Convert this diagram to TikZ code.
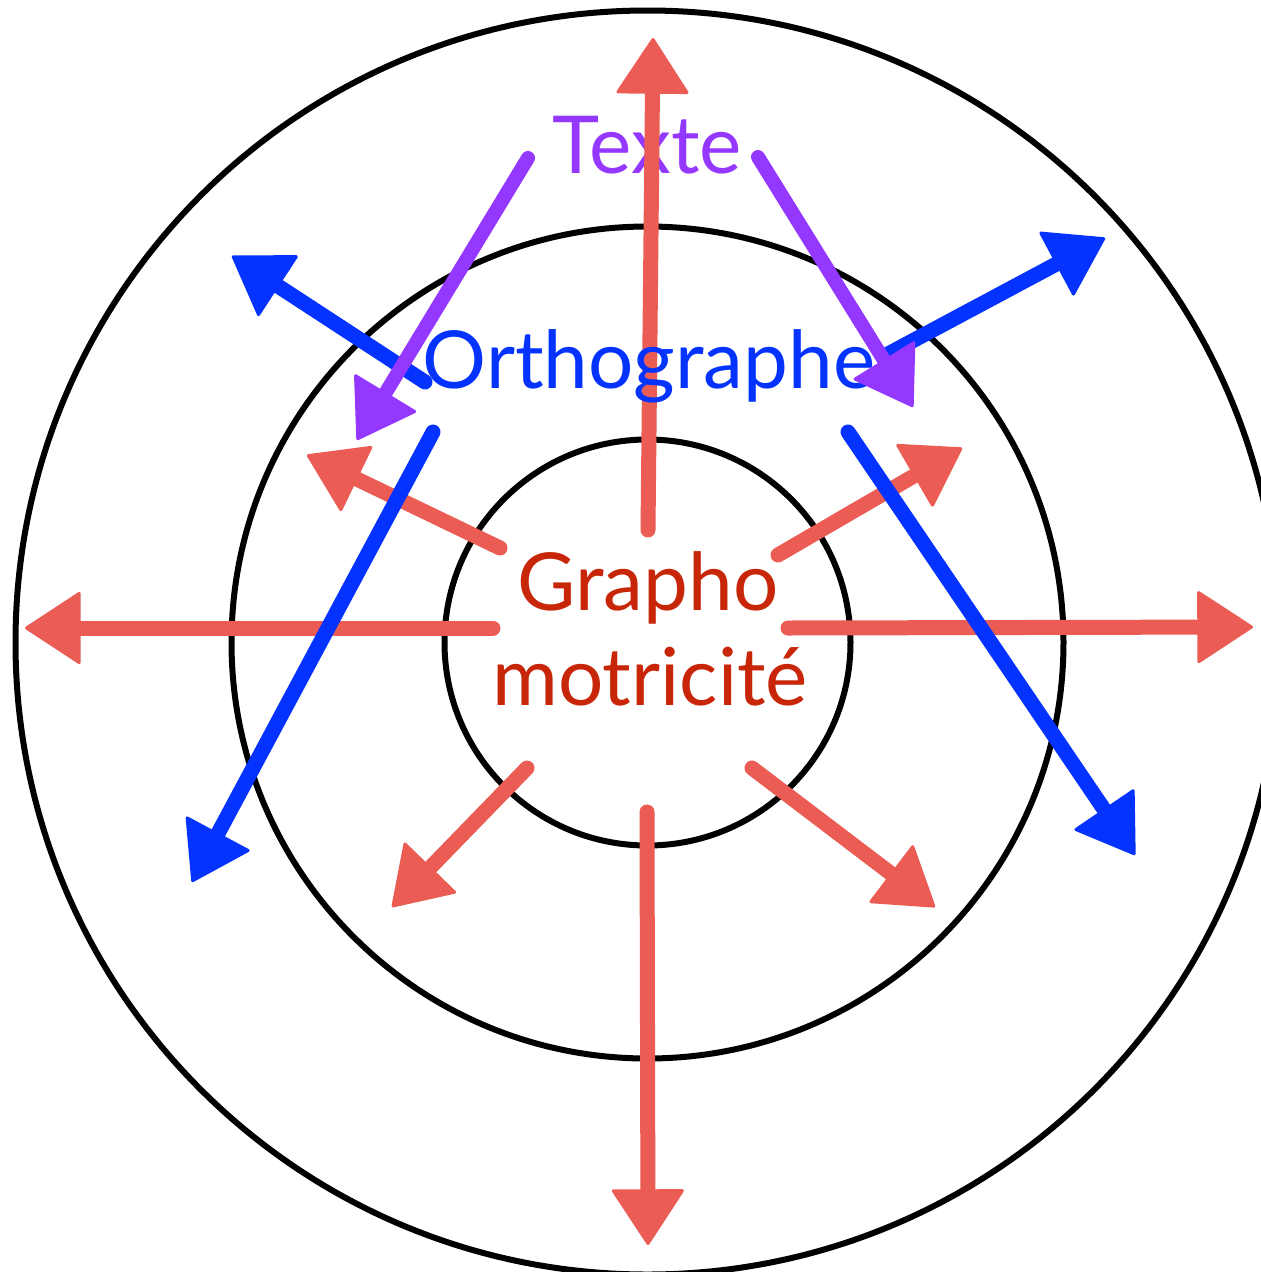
\documentclass[tikz,border=0pt]{standalone}
\usepackage{fontspec}
\setmainfont{Lato}
\usetikzlibrary{arrows.meta}
\definecolor{arrred}{RGB}{234,92,84}
\definecolor{txtred}{RGB}{200,38,8}
\definecolor{myblue}{RGB}{4,51,255}
\definecolor{mypurple}{RGB}{148,55,255}
\begin{document}
\begin{tikzpicture}[x=1pt,y=-1pt,
  ring/.style={draw=black,line width=6pt},
  headtip/.style={-{Triangle[length=57pt,width=74pt,line width=3pt,round]}},
  redarrow/.style={draw=arrred,line width=15pt,line cap=round,headtip},
  bluearrow/.style={draw=myblue,line width=15pt,line cap=round,headtip},
  purplearrow/.style={draw=mypurple,line width=14pt,line cap=round,headtip},
  label/.style={font=\fontsize{80}{80}\selectfont,anchor=base,inner sep=0pt}]
\fill[white] (0,0) rectangle (1261,1272);
\useasboundingbox (0,0) rectangle (1261,1272);
\clip (0,0) rectangle (1261,1272);
\coordinate (C) at (647.5,642.5);
\draw[ring] (C) circle[radius=632];
\draw[ring] (C) circle[radius=416];
\draw[ring] (C) circle[radius=203];
% Texte
\node[label,text=mypurple] (texte) at (647,173) {Texte};
% red arrows
\coordinate (ru0) at (648,530); \coordinate (ru1) at (653,38);
\coordinate (rd0) at (647,812); \coordinate (rd1) at (648,1245);
\coordinate (rr0) at (788,628); \coordinate (rr1) at (1253,627);
\coordinate (rl0) at (493,628); \coordinate (rl1) at (25,628);
\coordinate (rul0) at (500,548); \coordinate (rul1) at (307,455);
\coordinate (rur0) at (778,555); \coordinate (rur1) at (962,448);
\coordinate (rdl0) at (527,768); \coordinate (rdl1) at (392,907);
\coordinate (rdr0) at (752,768); \coordinate (rdr1) at (935,907);
\foreach \a in {ru,rd,rr,rl,rul,rur,rdl,rdr}{
  \draw[redarrow] (\a0) -- (\a1);
}
% Orthographe
\node[label,text=myblue] (ortho) at (649,388) {Orthographe};
% blue arrows
\coordinate (bul0) at (425,382); \coordinate (bul1) at (232,256);
\coordinate (bur0) at (888,354); \coordinate (bur1) at (1105,238);
\coordinate (bdl0) at (433,432); \coordinate (bdl1) at (192,882);
\coordinate (bdr0) at (848,432); \coordinate (bdr1) at (1135,855);
\foreach \a in {bul,bur,bdl,bdr}{
  \draw[bluearrow] (\a0) -- (\a1);
}
% purple arrows
\coordinate (pl0) at (528,158); \coordinate (pl1) at (357,440);
\coordinate (pr0) at (758,157); \coordinate (pr1) at (913,407);
\draw[purplearrow] (pl0) -- (pl1);
\draw[purplearrow] (pr0) -- (pr1);
% centre text
\node[label,text=txtred] (grapho) at (648,610) {Grapho};
\node[label,text=txtred] (motri) at (650,705) {motricité};
\end{tikzpicture}
\end{document}
